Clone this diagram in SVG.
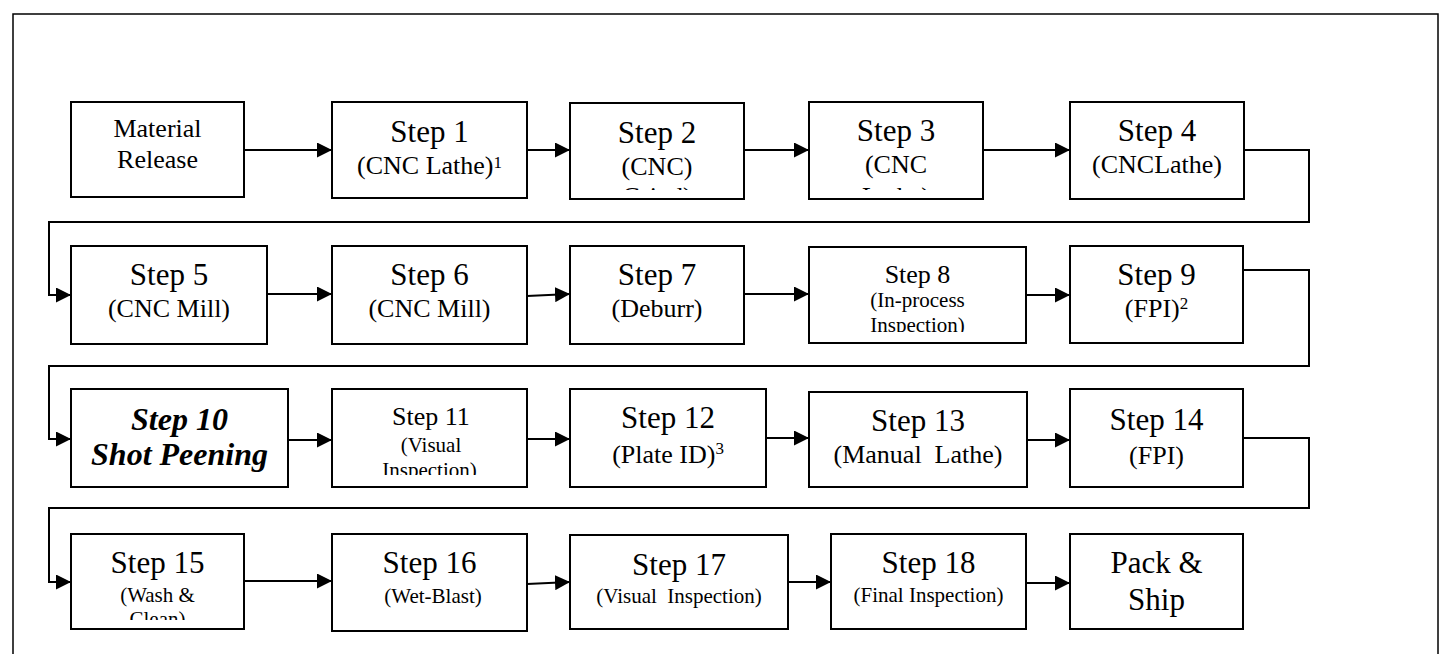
<svg xmlns="http://www.w3.org/2000/svg" width="1443" height="654" viewBox="0 0 1443 654" font-family="Liberation Serif, DejaVu Serif, Times New Roman, serif">
<style>
.box{fill:#fff;stroke:#000;stroke-width:2}
.c{fill:none;stroke:#000;stroke-width:2}
text{text-anchor:middle;fill:#000}
.big{font-size:31px}
.mid{font-size:26px}
.sm{font-size:21px}
.bi{font-weight:bold;font-style:italic;font-size:32px}
.frame{fill:none;stroke:#000;stroke-width:1.5}
</style>
<defs>
<marker id="ah" markerUnits="userSpaceOnUse" markerWidth="15" markerHeight="15" refX="15" refY="7.5" orient="auto">
<path d="M0,0 L15,7.5 L0,15 z" fill="#000"/>
</marker>
<clipPath id="cl2"><rect x="570" y="103" width="174" height="87"/></clipPath>
<clipPath id="cl3"><rect x="809" y="102" width="174" height="88"/></clipPath>
<clipPath id="cl8"><rect x="809" y="247" width="217" height="85"/></clipPath>
<clipPath id="cl11"><rect x="332" y="389" width="195" height="86"/></clipPath>
<clipPath id="cl15"><rect x="71" y="534" width="173" height="86"/></clipPath>
</defs>
<rect class="frame" x="13" y="14" width="1425" height="660"/>

<g id="connectors">
<line class="c" x1="244" y1="150" x2="332" y2="150" marker-end="url(#ah)"/>
<line class="c" x1="527" y1="150" x2="570" y2="150" marker-end="url(#ah)"/>
<line class="c" x1="744" y1="150" x2="809" y2="150" marker-end="url(#ah)"/>
<line class="c" x1="983" y1="150" x2="1070" y2="150" marker-end="url(#ah)"/>
<polyline class="c" points="1244,150 1309,150 1309,222 49,222 49,295 71,295" marker-end="url(#ah)"/>
<line class="c" x1="267" y1="294" x2="332" y2="294" marker-end="url(#ah)"/>
<line class="c" x1="527" y1="296" x2="570" y2="294" marker-end="url(#ah)"/>
<line class="c" x1="744" y1="294" x2="809" y2="294" marker-end="url(#ah)"/>
<line class="c" x1="1026" y1="295" x2="1070" y2="295" marker-end="url(#ah)"/>
<polyline class="c" points="1243,270 1309,270 1309,366 49,366 49,439 71,439" marker-end="url(#ah)"/>
<line class="c" x1="288" y1="440" x2="332" y2="440" marker-end="url(#ah)"/>
<line class="c" x1="527" y1="439" x2="570" y2="439" marker-end="url(#ah)"/>
<line class="c" x1="766" y1="438" x2="809" y2="438" marker-end="url(#ah)"/>
<line class="c" x1="1027" y1="440" x2="1070" y2="440" marker-end="url(#ah)"/>
<polyline class="c" points="1243,438 1309,438 1309,508 49,508 49,582 71,582" marker-end="url(#ah)"/>
<line class="c" x1="244" y1="581" x2="332" y2="581" marker-end="url(#ah)"/>
<line class="c" x1="527" y1="584" x2="570" y2="582" marker-end="url(#ah)"/>
<line class="c" x1="788" y1="582" x2="831" y2="582" marker-end="url(#ah)"/>
<line class="c" x1="1026" y1="583" x2="1070" y2="583" marker-end="url(#ah)"/>
</g>

<g id="material-release">
<rect class="box" x="71" y="102" width="173" height="95"/>
<text class="mid" x="157.5" y="137">Material</text>
<text class="mid" x="157.5" y="168">Release</text>
</g>
<g id="step1">
<rect class="box" x="332" y="102" width="195" height="96"/>
<text class="big" x="429.5" y="142">Step 1</text>
<text class="mid" x="429.5" y="174">(CNC Lathe)<tspan font-size="17" dy="-6">1</tspan></text>
</g>
<g id="step2">
<rect class="box" x="570" y="103" width="174" height="96"/>
<g clip-path="url(#cl2)">
<text class="big" x="657" y="143">Step 2</text>
<text class="mid" x="657" y="175">(CNC)</text>
<text class="mid" x="657" y="205">Grind)</text>
</g>
</g>
<g id="step3">
<rect class="box" x="809" y="102" width="174" height="97"/>
<g clip-path="url(#cl3)">
<text class="big" x="896" y="141">Step 3</text>
<text class="mid" x="896" y="173">(CNC</text>
<text class="mid" x="896" y="205">Lathe)</text>
</g>
</g>
<g id="step4">
<rect class="box" x="1070" y="102" width="174" height="97"/>
<text class="big" x="1157" y="141">Step 4</text>
<text class="mid" x="1157" y="173">(CNCLathe)</text>
</g>

<g id="step5">
<rect class="box" x="71" y="246" width="196" height="98"/>
<text class="big" x="169" y="285">Step 5</text>
<text class="mid" x="169" y="317">(CNC Mill)</text>
</g>
<g id="step6">
<rect class="box" x="332" y="246" width="195" height="98"/>
<text class="big" x="429.5" y="285">Step 6</text>
<text class="mid" x="429.5" y="317">(CNC Mill)</text>
</g>
<g id="step7">
<rect class="box" x="570" y="246" width="174" height="98"/>
<text class="big" x="657" y="285">Step 7</text>
<text class="mid" x="657" y="317">(Deburr)</text>
</g>
<g id="step8">
<rect class="box" x="809" y="247" width="217" height="96"/>
<g clip-path="url(#cl8)">
<text class="mid" x="917.5" y="283">Step 8</text>
<text class="sm" x="917.5" y="307">(In-process</text>
<text class="sm" x="917.5" y="332">Inspection)</text>
</g>
</g>
<g id="step9">
<rect class="box" x="1070" y="246" width="173" height="97"/>
<text class="big" x="1156.5" y="285">Step 9</text>
<text class="mid" x="1156.5" y="317">(FPI)<tspan font-size="17" dy="-8">2</tspan></text>
</g>

<g id="step10">
<rect class="box" x="71" y="389" width="217" height="98"/>
<text class="bi" x="179.5" y="430">Step 10</text>
<text class="bi" x="179.5" y="465">Shot Peening</text>
</g>
<g id="step11">
<rect class="box" x="332" y="389" width="195" height="98"/>
<g clip-path="url(#cl11)">
<text class="mid" x="431" y="425">Step 11</text>
<text class="sm" x="431" y="452">(Visual</text>
<text class="sm" x="429.5" y="477">Inspection)</text>
</g>
</g>
<g id="step12">
<rect class="box" x="570" y="389" width="196" height="98"/>
<text class="big" x="668" y="428">Step 12</text>
<text class="mid" x="668" y="463">(Plate ID)<tspan font-size="17" dy="-9">3</tspan></text>
</g>
<g id="step13">
<rect class="box" x="809" y="392" width="218" height="95"/>
<text class="big" x="918" y="431">Step 13</text>
<text class="mid" x="918" y="463" xml:space="preserve">(Manual  Lathe)</text>
</g>
<g id="step14">
<rect class="box" x="1070" y="389" width="173" height="98"/>
<text class="big" x="1156.5" y="430">Step 14</text>
<text class="mid" x="1156.5" y="464">(FPI)</text>
</g>

<g id="step15">
<rect class="box" x="71" y="534" width="173" height="95"/>
<g clip-path="url(#cl15)">
<text class="big" x="157.5" y="573">Step 15</text>
<text class="sm" x="157.5" y="602">(Wash &amp;</text>
<text class="sm" x="157.5" y="626">Clean)</text>
</g>
</g>
<g id="step16">
<rect class="box" x="332" y="534" width="195" height="97"/>
<text class="big" x="429.5" y="573">Step 16</text>
<text class="sm" x="433" y="603">(Wet-Blast)</text>
</g>
<g id="step17">
<rect class="box" x="570" y="535" width="218" height="94"/>
<text class="big" x="679" y="575">Step 17</text>
<text class="sm" x="679" y="603" xml:space="preserve">(Visual  Inspection)</text>
</g>
<g id="step18">
<rect class="box" x="831" y="534" width="195" height="95"/>
<text class="big" x="928.5" y="573">Step 18</text>
<text class="sm" x="928.5" y="602">(Final Inspection)</text>
</g>
<g id="pack-ship">
<rect class="box" x="1070" y="534" width="173" height="95"/>
<text class="big" x="1156.5" y="573">Pack &amp;</text>
<text class="big" x="1156.5" y="610">Ship</text>
</g>
</svg>
